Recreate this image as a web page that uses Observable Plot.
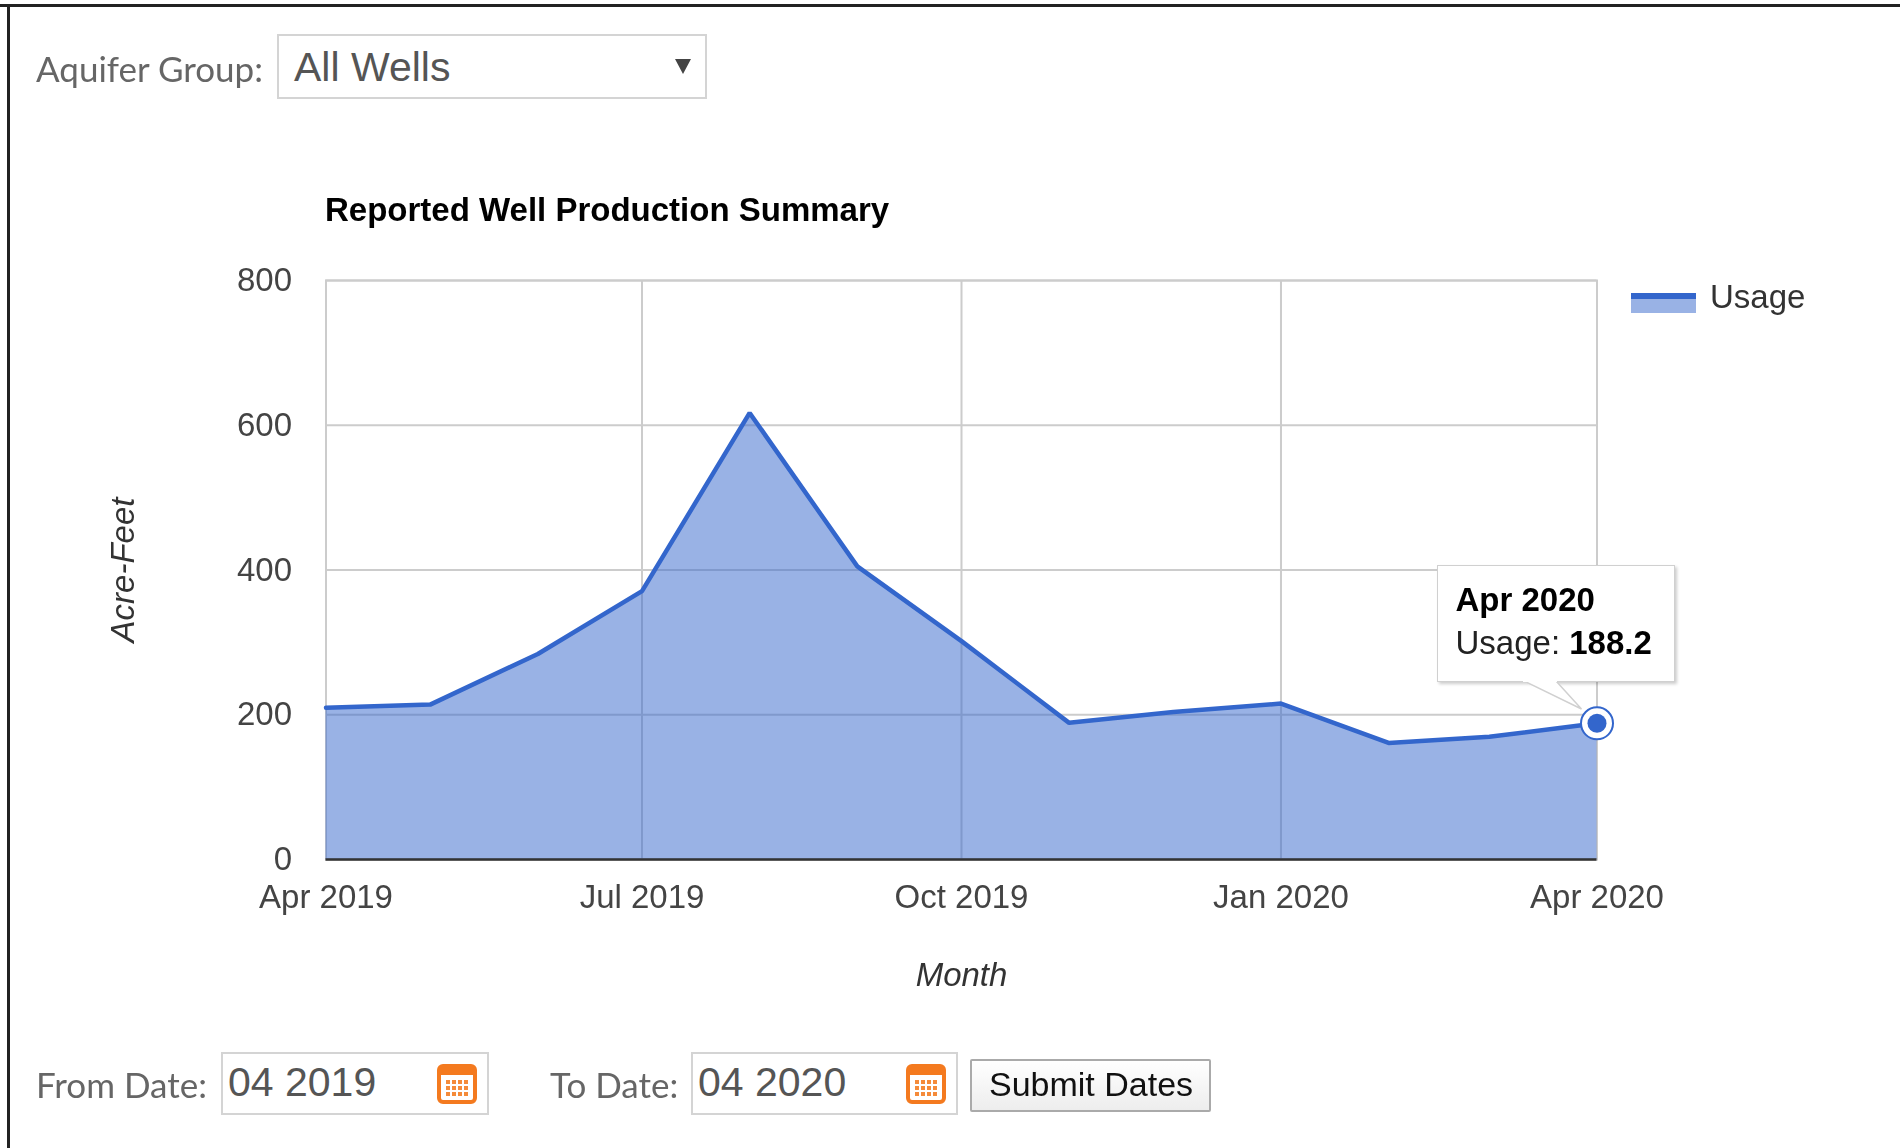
<!DOCTYPE html>
<html><head><meta charset="utf-8">
<script src="https://cdn.jsdelivr.net/npm/d3@7"></script>
<script src="https://cdn.jsdelivr.net/npm/@observablehq/plot@0.6"></script>
<style>
html,body{margin:0;padding:0;width:1900px;height:1148px;overflow:hidden;background:#fff}
#page{position:relative;width:1900px;height:1148px;font-family:"Liberation Sans",Arial,sans-serif;filter:blur(0.5px)}
#page>svg{position:absolute;left:0;top:0}
.abs{position:absolute;white-space:nowrap;line-height:1}
.lbl{font-family:Lato,sans-serif;color:#666;font-size:35px}
.box{position:absolute;box-sizing:border-box;border:2px solid #d4d4d4;background:#fff}
.val{font-size:41px;color:#555}
</style></head><body><div id="page"></div>
<script>
const months=["2019-04","2019-05","2019-06","2019-07","2019-08","2019-09","2019-10","2019-11","2019-12","2020-01","2020-02","2020-03","2020-04"];
const usage=[209.6,214,284,370.8,617,405,301.7,188.8,203.8,215.5,161,169.5,188.2];
const tickMonths=["2019-04","2019-07","2019-10","2020-01","2020-04"];
const yTicks=[0,200,400,600,800];
const seriesName="Usage";
const parse=d3.utcParse("%Y-%m");
const rows=months.map((m,i)=>({date:parse(m),usage:usage[i]}));
const last=rows[rows.length-1];
const blue="#3366cc";
const chart=Plot.plot({
  width:1900,height:1148,
  marginLeft:325.5,marginRight:303.5,marginTop:280,marginBottom:289,
  style:{fontFamily:'"Liberation Sans",Arial,sans-serif',fontSize:"33px",background:"transparent",overflow:"visible"},
  x:{type:"utc",domain:[rows[0].date,last.date],label:null},
  y:{domain:[0,800],label:null},
  marks:[
    Plot.gridX(tickMonths.map(parse),{stroke:"#cccccc",strokeOpacity:1,strokeWidth:2}),
    Plot.gridY(yTicks,{stroke:"#cccccc",strokeOpacity:1,strokeWidth:2}),
    Plot.frame({stroke:"#cccccc",strokeWidth:2}),
    Plot.areaY(rows,{x:"date",y:"usage",fill:blue,fillOpacity:0.5}),
    Plot.lineY(rows,{x:"date",y:"usage",stroke:blue,strokeWidth:4.5,strokeLinejoin:"miter"}),
    Plot.ruleY([0],{stroke:"#333333",strokeWidth:2.5}),
    Plot.axisX({ticks:tickMonths.map(parse),tickFormat:d3.utcFormat("%b %Y"),tickSize:0,tickPadding:25,label:null,color:"#444444",fontSize:33}),
    Plot.axisY({ticks:yTicks,tickSize:0,tickPadding:34,label:null,color:"#444444",fontSize:33}),
    Plot.text(["Month"],{frameAnchor:"bottom",dy:126,fontStyle:"italic",fill:"#333333",fontSize:33}),
    Plot.text(["Acre-Feet"],{frameAnchor:"left",textAnchor:"middle",dx:-203,rotate:-90,fontStyle:"italic",fill:"#333333",fontSize:33}),
    Plot.dot([last],{x:"date",y:"usage",r:16,fill:"#ffffff",stroke:blue,strokeWidth:2}),
    Plot.dot([last],{x:"date",y:"usage",r:9.5,fill:blue})
  ]
});
const page=document.getElementById("page");
page.appendChild(chart);
const px=chart.scale("x").apply(last.date), py=chart.scale("y").apply(last.usage);
function add(cls,css,text){const d=document.createElement("div");d.className=cls;d.style.cssText=css;if(text)d.textContent=text;page.appendChild(d);return d}
// page frame
add("abs","left:0;top:4px;width:1900px;height:3px;background:#222");
add("abs","left:7px;top:4px;width:3px;height:1144px;background:#222");
// aquifer row
add("abs lbl","left:36px;top:51px","Aquifer Group:");
add("box","left:277px;top:34px;width:430px;height:65px");
add("abs val","left:294px;top:47px","All Wells");
add("abs","left:675px;top:59px;width:0;height:0;border-left:8px solid transparent;border-right:8px solid transparent;border-top:15px solid #444");
// title
add("abs","left:325px;top:193px;font-size:33px;font-weight:bold;color:#000","Reported Well Production Summary");
// legend
add("abs","left:1631px;top:293px;width:65px;height:20px;background:"+blue+";opacity:.5");
add("abs","left:1631px;top:293px;width:65px;height:6px;background:"+blue);
add("abs","left:1710px;top:280px;font-size:33px;color:#333",seriesName);
// tooltip
add("box",`left:${px-160}px;top:${py-158}px;width:238px;height:117px;border:1px solid #d0d0d0;box-shadow:2px 2px 3px rgba(0,0,0,.2)`);
const tail=document.createElementNS("http://www.w3.org/2000/svg","svg");
tail.setAttribute("width",px-1520);tail.setAttribute("height",40);
tail.style.cssText=`position:absolute;left:1520px;top:${py-42}px`;
tail.innerHTML=`<path d="M4 0L${px-1535} 28L36 0Z" fill="#fff" stroke="#d0d0d0" stroke-width="1.5"/><path d="M3 -1H37V1H3Z" fill="#fff"/>`;
page.appendChild(tail);
add("abs",`left:${px-141}px;top:${py-140}px;font-size:33px;font-weight:bold;color:#000`,"Apr 2020");
const u=add("abs",`left:${px-141}px;top:${py-97}px;font-size:33px;color:#222`,seriesName+": ");
const b=document.createElement("b");b.textContent=usage[usage.length-1].toFixed(1);b.style.color="#000";u.appendChild(b);
// date row
function cal(x){
  const s=document.createElementNS("http://www.w3.org/2000/svg","svg");
  s.setAttribute("width",40);s.setAttribute("height",41);
  s.style.cssText=`position:absolute;left:${x}px;top:1063px`;
  let g="";
  for(let r=0;r<3;r++)for(let c=0;c<4;c++)g+=`<rect x="${9+c*6}" y="${17+r*6}" width="4" height="4" fill="#f58b3a"/>`;
  s.innerHTML=`<rect x="2" y="3" width="36" height="36" rx="4" fill="#fff" stroke="#f47a1f" stroke-width="4"/><rect x="2" y="3" width="36" height="9" fill="#f47a1f"/>`+g;
  page.appendChild(s);
}
add("abs lbl","left:36px;top:1067px","From Date:");
add("box","left:221px;top:1052px;width:268px;height:63px");
add("abs val","left:228px;top:1062px;color:#555","04 2019");
cal(437);
add("abs lbl","left:550px;top:1067px","To Date:");
add("box","left:691px;top:1052px;width:267px;height:63px");
add("abs val","left:698px;top:1062px","04 2020");
cal(906);
add("box","left:970px;top:1059px;width:241px;height:53px;border:2px solid #aaa;border-radius:2px;background:linear-gradient(#fff,#ededed)");
add("abs","left:989px;top:1067px;font-size:34px;color:#111","Submit Dates");
</script></body></html>
